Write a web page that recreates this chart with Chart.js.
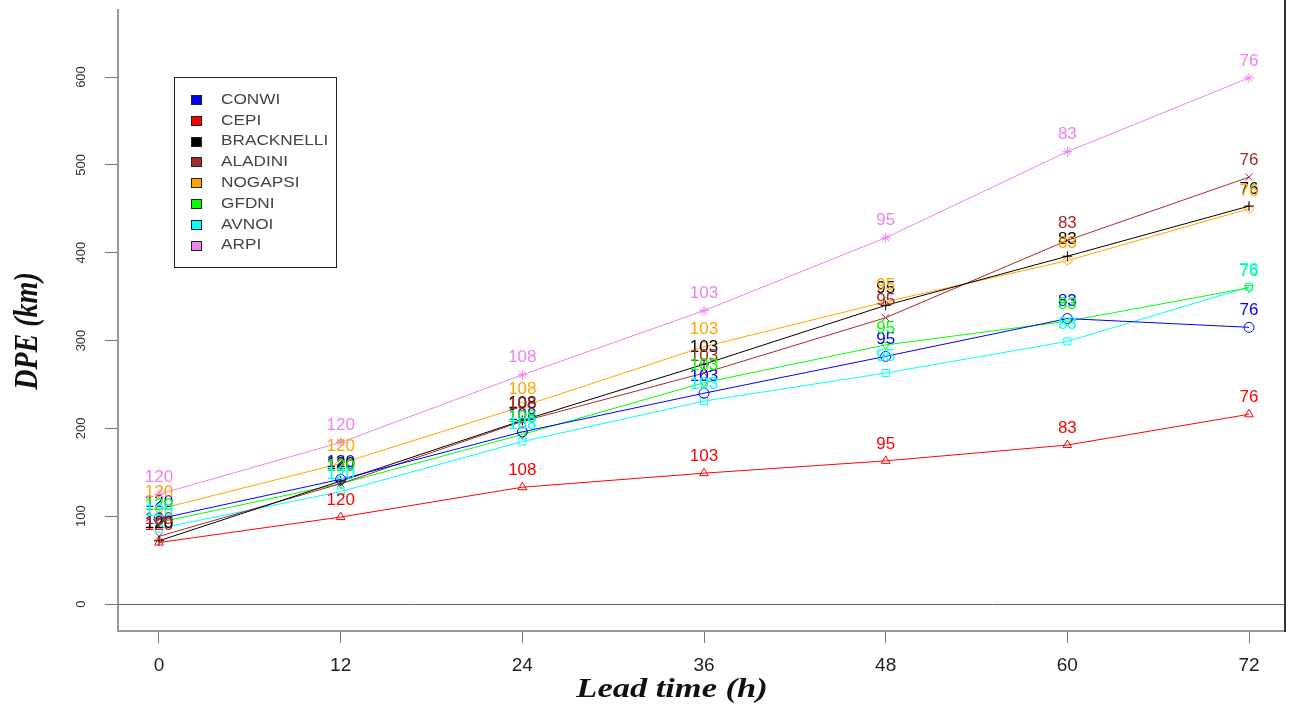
<!DOCTYPE html>
<html>
<head>
<meta charset="utf-8">
<script src="https://cdn.jsdelivr.net/npm/chart.js@4.4.1/dist/chart.umd.min.js"></script>
<style>
  html, body { margin: 0; padding: 0; background: #fff; }
  #wrap { width: 1293px; height: 711px; }
</style>
</head>
<body>
<div id="wrap"><canvas id="c" width="1293" height="711"></canvas></div>
<script>
// ---- data ----
const leadTimes = [0, 12, 24, 36, 48, 60, 72];
const sampleCounts = [120, 120, 108, 103, 95, 83, 76];
const modelNames = ['CONWI', 'CEPI', 'BRACKNELLI', 'ALADINI', 'NOGAPSI', 'GFDNI', 'AVNOI', 'ARPI'];
const conwi     = [97, 142, 196, 240, 282, 325, 315];
const cepi      = [70, 99, 133, 149, 163, 181, 216];
const bracknell = [72, 140, 209, 273, 340, 396, 453];
const aladin    = [77, 137, 208, 263, 326, 414, 486];
const nogaps    = [108, 160, 225, 293, 344, 391, 450];
const gfdn      = [93, 137, 193, 252, 295, 322, 360];
const avno      = [86, 128, 185, 231, 263, 299, 361];
const arp       = [125, 184, 261, 334, 417, 515, 599];
const yTickValues = [0, 100, 200, 300, 400, 500, 600];
const xTickValues = [0, 12, 24, 36, 48, 60, 72];
const xTitle = 'Lead time (h)';
const yTitle = 'DPE (km)';

// ---- styles ----
const seriesValues = [conwi, cepi, bracknell, aladin, nogaps, gfdn, avno, arp];
const colors = ['#0000ff', '#ff0000', '#000000', '#a52a2a', '#ffa500', '#00ff00', '#00ffff', '#ee82ee'];
const markers = ['circle', 'triangle', 'cross', 'crossRot', 'rectRot', 'triangle', 'rect', 'star'];
const markerRot = [0, 0, 0, 0, 0, 180, 0, 0];

const datasets = seriesValues.map((vals, i) => ({
  label: modelNames[i],
  data: vals.map((v, j) => ({ x: leadTimes[j], y: v })),
  borderColor: colors[i],
  backgroundColor: 'rgba(0,0,0,0)',
  borderWidth: 1,
  tension: 0,
  pointStyle: markers[i],
  pointRotation: markerRot[i],
  pointRadius: 5,
  pointHoverRadius: 5,
  pointBorderWidth: 1,
  pointBorderColor: colors[i],
  pointBackgroundColor: 'rgba(0,0,0,0)'
}));

const SX = 1.23; // horizontal stretch seen in the reference text

function noPad(scale) {
  scale.paddingTop = 0; scale.paddingBottom = 0;
  scale.paddingLeft = 0; scale.paddingRight = 0;
}

const decor = {
  id: 'decor',
  beforeDatasetsDraw(chart) {
    const ctx = chart.ctx, ca = chart.chartArea, y0 = chart.scales.y.getPixelForValue(0);
    ctx.save();
    ctx.strokeStyle = '#666';
    ctx.lineWidth = 1;
    ctx.beginPath();
    ctx.moveTo(ca.left, Math.round(y0) + 0.5);
    ctx.lineTo(ca.right, Math.round(y0) + 0.5);
    ctx.stroke();
    // right border
    ctx.strokeStyle = '#333';
    ctx.lineWidth = 2;
    ctx.beginPath();
    ctx.moveTo(ca.right + 1, 0);
    ctx.lineTo(ca.right + 1, ca.bottom + 1);
    ctx.stroke();
    ctx.restore();
  },
  afterDatasetsDraw(chart) {
    const ctx = chart.ctx;
    ctx.save();
    ctx.font = '17px "Liberation Sans", Arial, sans-serif';
    ctx.textAlign = 'center';
    ctx.textBaseline = 'middle';
    chart.data.datasets.forEach((ds, i) => {
      const meta = chart.getDatasetMeta(i);
      ctx.fillStyle = colors[i];
      meta.data.forEach((pt, j) => {
        ctx.fillText(String(sampleCounts[j]), pt.x, pt.y - 17);
      });
    });
    ctx.restore();
  },
  afterDraw(chart) {
    const ctx = chart.ctx;
    ctx.save();
    // legend box
    ctx.strokeStyle = '#222';
    ctx.lineWidth = 1;
    ctx.strokeRect(174.5, 77.5, 162, 190);
    ctx.font = '14px "Liberation Sans", Arial, sans-serif';
    ctx.textBaseline = 'middle';
    modelNames.forEach((name, i) => {
      const yc = 100 + i * 20.8;
      ctx.fillStyle = colors[i];
      ctx.fillRect(191, Math.round(yc - 5), 11, 10);
      ctx.strokeStyle = '#222';
      ctx.strokeRect(191.5, Math.round(yc - 5) + 0.5, 10, 9);
      ctx.save();
      ctx.translate(221, yc);
      ctx.scale(SX, 1);
      ctx.fillStyle = '#444';
      ctx.textAlign = 'left';
      ctx.fillText(name, 0, 0);
      ctx.restore();
    });
    // axis titles
    ctx.fillStyle = '#111';
    ctx.font = 'italic bold 28px "Liberation Serif", "Times New Roman", serif';
    ctx.textAlign = 'center';
    ctx.textBaseline = 'middle';
    ctx.save();
    ctx.translate(672, 690);
    ctx.scale(SX, 1);
    ctx.fillText(xTitle, 0, 0);
    ctx.restore();
    ctx.save();
    ctx.translate(28, 331);
    ctx.scale(SX, 1);
    ctx.rotate(-Math.PI / 2);
    ctx.fillText(yTitle, 0, 0);
    ctx.restore();
    ctx.restore();
  }
};

new Chart(document.getElementById('c'), {
  type: 'line',
  data: { datasets },
  options: {
    responsive: false,
    animation: false,
    events: [],
    layout: { padding: { left: 0, top: 10, right: 9, bottom: 0 } },
    plugins: { legend: { display: false }, tooltip: { enabled: false }, title: { display: false } },
    scales: {
      x: {
        type: 'linear',
        min: -2.708,
        max: 74.31,
        afterBuildTicks(scale) { scale.ticks = xTickValues.map(v => ({ value: v })); },
        afterFit(scale) { scale.height = 80; noPad(scale); },
        grid: { drawOnChartArea: false, drawTicks: true, tickLength: 12, tickColor: '#777', tickWidth: 1 },
        border: { display: true, color: '#999', width: 2 },
        ticks: { color: '#222', font: { family: '"Liberation Sans", Arial, sans-serif', size: 19 }, padding: 11, maxRotation: 0, minRotation: 0, autoSkip: false }
      },
      y: {
        type: 'linear',
        min: -30.7,
        max: 676.3,
        afterBuildTicks(scale) { scale.ticks = yTickValues.map(v => ({ value: v })); },
        afterFit(scale) { scale.width = 118; noPad(scale); },
        grid: { drawOnChartArea: false, drawTicks: true, tickLength: 13, tickColor: '#777', tickWidth: 1 },
        border: { display: true, color: '#999', width: 2 },
        ticks: { color: '#333', font: { family: '"Liberation Sans", Arial, sans-serif', size: 13 }, padding: 13, minRotation: 90, maxRotation: 90, crossAlign: 'center', autoSkip: false }
      }
    }
  },
  plugins: [decor]
});
</script>
</body>
</html>
